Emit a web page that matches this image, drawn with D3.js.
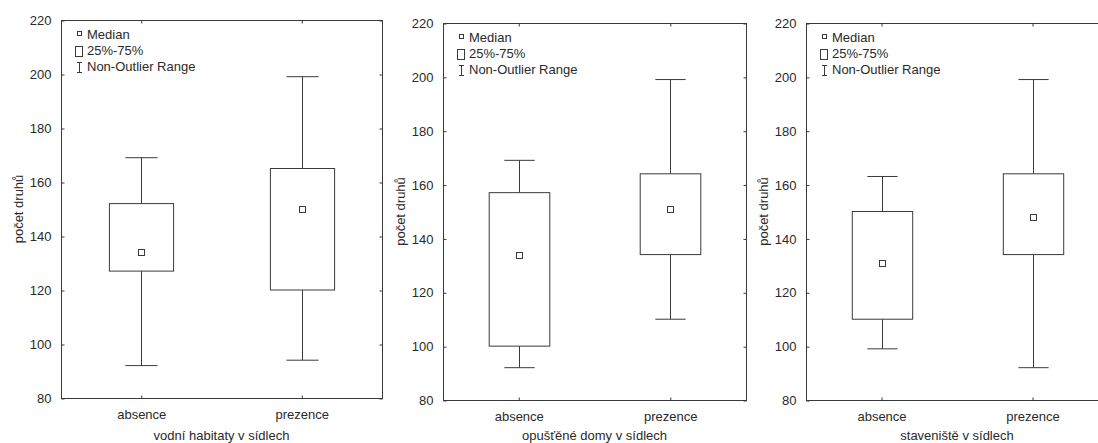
<!DOCTYPE html>
<html>
<head>
<meta charset="utf-8">
<script src="https://cdn.jsdelivr.net/npm/d3@7"></script>
<style>
  body { margin: 0; background: #fff; }
  text { font-family: "Liberation Sans", Arial, sans-serif; fill: #2a2a2a; }
</style>
</head>
<body>
<div id="chart"></div>
<script>
// Box plot values per panel: [absence, prezence]
const categories = ["absence", "prezence"];
const panelTitles = ["vodní habitaty v sídlech", "opušťěné domy v sídlech", "staveniště v sídlech"];
const whiskerLow  = [[92, 94],   [92, 110],  [99, 92]];
const q1          = [[127, 120], [100, 134], [110, 134]];
const medians     = [[134, 150], [134, 151], [131, 148]];
const q3          = [[152, 165], [157, 164], [150, 164]];
const whiskerHigh = [[169, 199], [169, 199], [163, 199]];
const yTicks = [80, 100, 120, 140, 160, 180, 200, 220];
const legendLabels = ["Median", "25%-75%", "Non-Outlier Range"];

const width = 1098, height = 443;
const stroke = "#3a3a3a";
const fontSize = "13px";

// plot frames (left, top, right, bottom)
const frames = [
    [61, 20, 382, 398],
    [443, 23, 746, 400],
    [806, 23, 1108, 400]
];

const svg = d3.select("#chart")
    .append("svg")
    .attr("width", width)
    .attr("height", height);

frames.forEach((f, p) => {
    const [x0, y0, x1, y1] = f;

    const x = d3.scaleBand()
        .domain(categories)
        .range([x0, x1])
        .paddingInner(0)
        .paddingOuter(0);

    const y = d3.scaleLinear()
        .domain([80, 220])
        .range([y1, y0]);

    const g = svg.append("g");

    // frame
    g.append("rect")
        .attr("x", x0 + 0.5)
        .attr("y", y0 + 0.5)
        .attr("width", x1 - x0)
        .attr("height", y1 - y0)
        .attr("fill", "none")
        .attr("stroke", stroke)
        .attr("stroke-width", 1);

    // left axis, ticks pointing inward
    const yAxis = g.append("g")
        .attr("transform", `translate(${x0 + 0.5},0.5)`)
        .call(d3.axisLeft(y).tickValues(yTicks).tickSizeInner(-3).tickSizeOuter(0).tickPadding(10));
    yAxis.select(".domain").remove();
    yAxis.selectAll("line").attr("stroke", stroke);
    yAxis.selectAll("text")
        .attr("fill", "#2a2a2a")
        .style("font-size", fontSize)
        .style("font-family", "Liberation Sans, Arial, sans-serif");

    // right axis ticks (inward)
    const yAxisR = g.append("g")
        .attr("transform", `translate(${x1 + 0.5},0.5)`)
        .call(d3.axisRight(y).tickValues(yTicks).tickSizeInner(-3).tickSizeOuter(0).tickFormat(""));
    yAxisR.select(".domain").remove();
    yAxisR.selectAll("line").attr("stroke", stroke);

    // bottom axis
    const xAxis = g.append("g")
        .attr("transform", `translate(0.5,${y1 + 0.5})`)
        .call(d3.axisBottom(x).tickSizeInner(-3).tickSizeOuter(0).tickPadding(11));
    xAxis.select(".domain").remove();
    xAxis.selectAll("line").attr("stroke", stroke);
    xAxis.selectAll("text")
        .attr("fill", "#2a2a2a")
        .style("font-size", fontSize)
        .style("font-family", "Liberation Sans, Arial, sans-serif");

    // top axis ticks
    const xAxisT = g.append("g")
        .attr("transform", `translate(0.5,${y0 + 0.5})`)
        .call(d3.axisTop(x).tickSizeInner(-3).tickSizeOuter(0).tickFormat(""));
    xAxisT.select(".domain").remove();
    xAxisT.selectAll("line").attr("stroke", stroke);

    // axis titles
    g.append("text")
        .attr("x", (x0 + x1) / 2)
        .attr("y", 440)
        .attr("text-anchor", "middle")
        .style("font-size", fontSize)
        .text(panelTitles[p]);

    g.append("text")
        .attr("transform", `translate(${x0 - 38},${(y0 + y1) / 2}) rotate(-90)`)
        .attr("text-anchor", "middle")
        .style("font-size", fontSize)
        .text("počet druhů");

    // boxes
    const boxW = x.bandwidth() * 0.4;
    const capW = boxW / 2;
    categories.forEach((c, i) => {
        const cx = Math.round(x(c) + x.bandwidth() / 2) + 0.5;
        const bx = g.append("g");

        bx.append("line")
            .attr("x1", cx).attr("x2", cx)
            .attr("y1", y(whiskerHigh[p][i])).attr("y2", y(q3[p][i]))
            .attr("stroke", stroke);
        bx.append("line")
            .attr("x1", cx).attr("x2", cx)
            .attr("y1", y(q1[p][i])).attr("y2", y(whiskerLow[p][i]))
            .attr("stroke", stroke);
        bx.append("line")
            .attr("x1", cx - capW / 2).attr("x2", cx + capW / 2)
            .attr("y1", y(whiskerHigh[p][i])).attr("y2", y(whiskerHigh[p][i]))
            .attr("stroke", stroke);
        bx.append("line")
            .attr("x1", cx - capW / 2).attr("x2", cx + capW / 2)
            .attr("y1", y(whiskerLow[p][i])).attr("y2", y(whiskerLow[p][i]))
            .attr("stroke", stroke);
        bx.append("rect")
            .attr("x", cx - boxW / 2)
            .attr("y", y(q3[p][i]))
            .attr("width", boxW)
            .attr("height", y(q1[p][i]) - y(q3[p][i]))
            .attr("fill", "#fff")
            .attr("stroke", stroke);
        bx.append("rect")
            .attr("x", cx - 3)
            .attr("y", Math.round(y(medians[p][i])) - 2.5)
            .attr("width", 6)
            .attr("height", 6)
            .attr("fill", "#fff")
            .attr("stroke", stroke);
    });

    // legend
    const lx = x0 + 18, ly = y0 + 14;
    const lg = g.append("g");
    lg.append("rect")
        .attr("x", lx - 1.5).attr("y", ly - 2.5)
        .attr("width", 4).attr("height", 4)
        .attr("fill", "#fff").attr("stroke", stroke);
    lg.append("rect")
        .attr("x", lx - 3.5).attr("y", ly + 12.5)
        .attr("width", 7).attr("height", 10)
        .attr("fill", "#fff").attr("stroke", stroke);
    lg.append("line")
        .attr("x1", lx + 0.5).attr("x2", lx + 0.5)
        .attr("y1", ly + 29).attr("y2", ly + 38)
        .attr("stroke", stroke);
    lg.append("line")
        .attr("x1", lx - 2).attr("x2", lx + 3)
        .attr("y1", ly + 28.5).attr("y2", ly + 28.5)
        .attr("stroke", stroke);
    lg.append("line")
        .attr("x1", lx - 2).attr("x2", lx + 3)
        .attr("y1", ly + 38.5).attr("y2", ly + 38.5)
        .attr("stroke", stroke);
    legendLabels.forEach((t, k) => {
        lg.append("text")
            .attr("x", lx + 8)
            .attr("y", ly + 5 + k * 16)
            .style("font-size", fontSize)
            .text(t);
    });
});
</script>
</body>
</html>
